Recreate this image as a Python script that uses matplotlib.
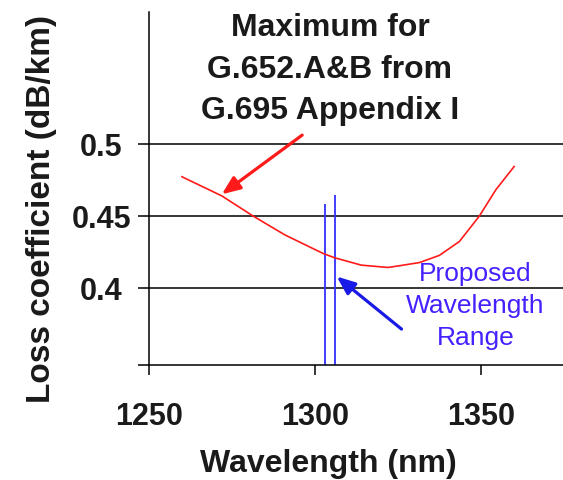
import matplotlib
matplotlib.use("Agg")
import matplotlib.pyplot as plt

# loss curve (nm, dB/km)
wavelength = [1260, 1272, 1281.5, 1291, 1302.5, 1306, 1314, 1322, 1325.5,
              1331.5, 1337.5, 1343.5, 1349.5, 1354.5, 1360]
loss = [0.4774, 0.4641, 0.4500, 0.4370, 0.4241, 0.4211, 0.4160, 0.4144, 0.4156,
        0.4178, 0.4228, 0.4324, 0.4500, 0.4684, 0.4845]

# proposed wavelength range markers
range_wl = [1303, 1306]
range_top = [0.4588, 0.4648]

x_ticks = [1250, 1300, 1350]
y_ticks = [0.4, 0.45, 0.5]
y_tick_labels = ["0.4", "0.45", "0.5"]

plt.rcParams['font.family'] = ['Liberation Sans', 'DejaVu Sans']

fig = plt.figure(figsize=(5.63, 4.80), dpi=100)
ax = fig.add_axes([0.2641, 0.2406, 0.7359, 0.735])

ymin, ymax = 0.347, 0.592
ax.set_xlim(1250, 1374.7)
ax.set_ylim(ymin, ymax)

# horizontal reference lines
for yv in y_ticks:
    ax.axhline(yv, color='black', linewidth=1.1, zorder=1)

ax.plot(wavelength, loss, color='#ff1a1a', linewidth=1.2, zorder=3,
        solid_joinstyle='round')
ax.vlines(range_wl, ymin, range_top, color='#3030ff', linewidth=1.3, zorder=2)

# arrows
arrow_style = '-|>,head_length=1.1,head_width=0.45'
ax.annotate("", xy=(1272.0, 0.4652), xytext=(1296.2, 0.5063),
            arrowprops=dict(arrowstyle=arrow_style, color='#ff1a1a', lw=2.3,
                            shrinkA=0, shrinkB=0))
ax.annotate("", xy=(1306.6, 0.4081), xytext=(1326.1, 0.3716),
            arrowprops=dict(arrowstyle=arrow_style, color='#1a1ae6', lw=2.3,
                            shrinkA=0, shrinkB=0))

for side in ['top', 'right']:
    ax.spines[side].set_visible(False)
for side in ['left', 'bottom']:
    ax.spines[side].set_linewidth(1.1)

ax.set_xticks(x_ticks)
ax.set_xticklabels([str(v) for v in x_ticks], fontsize=22, fontweight='bold', color='#1a1a1a')
ax.set_yticks([ymin] + y_ticks)
ax.set_yticklabels([""] + y_tick_labels, fontsize=22, fontweight='bold', color='#1a1a1a')
ax.tick_params(axis='x', direction='out', length=7.2, width=1.1, pad=20)
ax.tick_params(axis='y', direction='out', length=7.6, width=1.1, pad=26.6)
for lbl in ax.get_yticklabels():
    lbl.set_horizontalalignment('center')

fig.text(0.5826, 0.0173, "Wavelength (nm)", ha='center', va='baseline',
         fontsize=23, fontweight='bold', color='#1a1a1a')
fig.text(0.0737, 0.5646, "Loss coefficient (dB/km)", ha='center', va='center',
         rotation=90, fontsize=24, fontweight='bold', color='#1a1a1a')

fig.text(0.586, 0.972, "Maximum for\nG.652.A&B from\nG.695 Appendix I",
         ha='center', va='top', fontsize=23, fontweight='bold',
         color='#1a1a1a', linespacing=1.5)

ax.text(1348.3, 0.3876, "Proposed\nWavelength\nRange", ha='center', va='center',
        fontsize=19, color='#4422ff', linespacing=1.4)

fig.savefig("out.png", dpi=100)
